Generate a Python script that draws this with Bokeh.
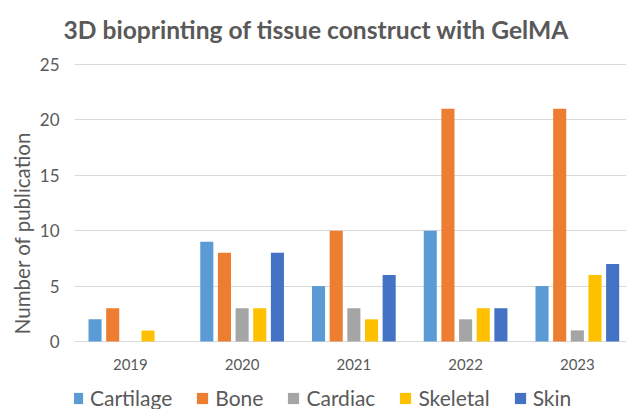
from bokeh.plotting import figure
from bokeh.models import Legend, LegendItem, FixedTicker, Range1d, Title
from bokeh.core.properties import value
from bokeh.embed import file_html
from bokeh.resources import INLINE

years = ["2019", "2020", "2021", "2022", "2023"]
series_names = ["Cartilage", "Bone", "Cardiac", "Skeletal", "Skin"]
cartilage = [2, 9, 5, 10, 5]
bone = [3, 8, 10, 21, 21]
cardiac = [0, 3, 3, 2, 1]
skeletal = [1, 3, 2, 3, 6]
skin = [0, 8, 6, 3, 7]
colors = ["#5B9BD5", "#ED7D31", "#A5A5A5", "#FFC000", "#4472C4"]
y_ticks = [0, 5, 10, 15, 20, 25]

TXT = "#595959"
GRID = "#D9D9D9"

p = figure(width=626, height=409, output_backend="svg", toolbar_location=None,
           x_range=Range1d(0, 4.94), y_range=Range1d(-6.14, 25.72),
           x_axis_location=None,
           min_border_left=74, min_border_right=0, min_border_top=56, min_border_bottom=0)
p.title = Title(text="3D bioprinting of tissue construct with GelMA", text_font="Lato",
                text_font_style="bold", text_font_size="24.6px", text_color=TXT,
                align="left", offset=-11, standoff=22, vertical_align="top")
p.outline_line_color = None
p.background_fill_color = "white"

step = 0.158
width = 0.117
all_series = [cartilage, bone, cardiac, skeletal, skin]
items = []
for k, (name, vals, col) in enumerate(zip(series_names, all_series, colors)):
    xs = [i + 0.5 + (k - 2) * step for i in range(len(years))]
    r = p.vbar(x=xs, top=vals, width=width, fill_color=col, line_color=None)
    items.append(LegendItem(label=name, renderers=[r]))

# category labels under the baseline
p.text(x=[i + 0.5 for i in range(len(years))], y=-2.05, text=years,
       text_font=value("Lato"), text_font_size="15px", text_color=TXT,
       text_align="center", text_baseline="middle")

p.yaxis.ticker = FixedTicker(ticks=y_ticks)
p.yaxis.axis_line_color = None
p.yaxis.major_tick_line_color = None
p.yaxis.minor_tick_line_color = None
p.yaxis.major_tick_out = 0
p.yaxis.major_tick_in = 0
p.yaxis.minor_tick_out = 0
p.yaxis.major_label_text_font = "Lato"
p.yaxis.major_label_text_font_size = "17px"
p.yaxis.major_label_text_color = TXT
p.yaxis.major_label_standoff = 15
p.yaxis.axis_label = "Number of publication"
p.yaxis.axis_label_text_font = "Lato"
p.yaxis.axis_label_text_font_style = "normal"
p.yaxis.axis_label_text_font_size = "20.5px"
p.yaxis.axis_label_text_color = TXT
p.yaxis.axis_label_standoff = 3

p.xgrid.grid_line_color = None
p.ygrid.grid_line_color = GRID
p.ygrid.grid_line_width = 1

legend = Legend(items=items, orientation="horizontal", location=(-4, -1),
                label_text_font="Lato", label_text_font_size="21px", label_text_color=TXT,
                glyph_width=14, glyph_height=14, label_standoff=6, spacing=23,
                padding=0, margin=0, border_line_color=None, background_fill_alpha=0)
p.add_layout(legend, "center")

open("out.html", "w").write(file_html(p, INLINE))
